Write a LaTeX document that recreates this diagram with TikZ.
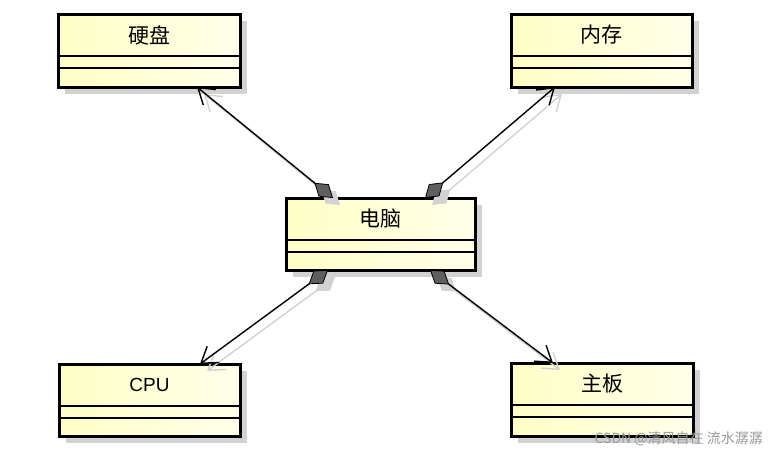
\documentclass[tikz,border=0pt]{standalone}
\usepackage{fontspec}
\newfontfamily\cjk{Noto Sans CJK SC}
\newfontfamily\arial{Liberation Sans}
\usetikzlibrary{arrows.meta}
\definecolor{boxL}{RGB}{255,255,198}
\definecolor{boxR}{RGB}{255,255,234}
\definecolor{shd}{RGB}{210,210,210}
\definecolor{dia}{RGB}{95,95,95}
\newcommand\umlbox[7]{%
  \fill[shd] (#2+7,#3+7) rectangle ++(#4,#5);
  \node[cls, minimum width=#4 pt, minimum height=#5 pt] (#1) at (#2,#3) {};
  \draw[div] ([yshift=-42pt]#1.north west) -- ([yshift=-42pt]#1.north east);
  \draw[div] ([yshift=-54pt]#1.north west) -- ([yshift=-54pt]#1.north east);
  \node[#7] (#1-t) at ([yshift=-21pt]#1.north) {#6};
}
\begin{document}
\begin{tikzpicture}[x=1pt,y=-1pt,
  cls/.style={draw=black, line width=3pt, left color=boxL, right color=boxR,
    anchor=north west, inner sep=0pt, outer sep=0pt},
  div/.style={line width=1.8pt},
  cjkt/.style={font=\cjk\fontsize{21}{24}\selectfont, inner sep=0pt},
  latt/.style={font=\arial\fontsize{19}{22}\selectfont, inner sep=0pt},
  link/.style={line width=1.4pt,
    {Diamond[length=24pt,width=16pt,fill=dia,line width=0.8pt]}-{Straight Barb[length=15pt,width=20pt,line width=1.4pt]}},
  linkshd/.style={line width=1.4pt, draw=shd, transform canvas={xshift=7pt,yshift=-7pt},
    {Diamond[length=24pt,width=16pt,fill=shd,line width=0.8pt]}-{Straight Barb[length=15pt,width=20pt,line width=1.4pt]}}
]
\fill[white] (0,0) rectangle (768,455);
\useasboundingbox (0,0) rectangle (768,455);

\umlbox{hd}{58}{14}{182}{73}{硬盘}{cjkt}
\umlbox{mem}{511}{14}{181}{73}{内存}{cjkt}
\umlbox{pc}{286}{198}{189}{72}{电脑}{cjkt}
\umlbox{cpu}{59}{364}{181}{72}{CPU}{latt}
\umlbox{mb}{511}{363}{182}{73}{主板}{cjkt}

% shadows of connectors
\draw[linkshd] ([xshift=47pt]pc.north west) -- ([xshift=139pt]hd.south west);
\draw[linkshd] ([xshift=-50pt]pc.north east) -- ([xshift=44pt]mem.south west);
\draw[linkshd] ([xshift=42pt]pc.south west) -- ([xshift=141pt]cpu.north west);
\draw[linkshd] ([xshift=-45pt]pc.south east) -- ([xshift=42pt]mb.north west);

% connectors
\draw[link] ([xshift=47pt]pc.north west) -- ([xshift=139pt]hd.south west);
\draw[link] ([xshift=-50pt]pc.north east) -- ([xshift=44pt]mem.south west);
\draw[link] ([xshift=42pt]pc.south west) -- ([xshift=141pt]cpu.north west);
\draw[link] ([xshift=-45pt]pc.south east) -- ([xshift=42pt]mb.north west);

\node[font=\cjk\fontsize{14}{16}\selectfont, text=black!40, anchor=east, inner sep=0pt] (wm) at (763,439) {CSDN @清风自在 流水潺潺};
\end{tikzpicture}
\end{document}
